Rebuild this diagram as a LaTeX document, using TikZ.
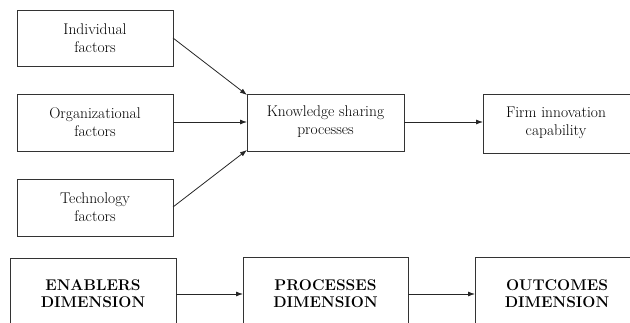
\documentclass[tikz,border=0pt]{standalone}
\usetikzlibrary{arrows.meta}
\begin{document}
\begin{tikzpicture}[x=1pt,y=-1pt,
  box/.style={draw=black!80,line width=0.9pt,fill=white},
  lbl/.style={align=center,font=\fontsize{15.5}{18}\selectfont,text=black},
  blbl/.style={align=center,font=\fontsize{15.5}{17}\selectfont\bfseries,text=black},
  conn/.style={draw=black!85,line width=0.8pt,-{Latex[length=7pt,width=5pt]}}]
\useasboundingbox (0,0) rectangle (630,323);
\begin{scope}
\clip (0,0) rectangle (630,323);
\draw[box] (17,10) rectangle (173,66);
\draw[box] (17,94) rectangle (173,151);
\draw[box] (17,179) rectangle (173,236);
\draw[box] (247,94) rectangle (404,151);
\draw[box] (483,94) rectangle (640,153);
\draw[box] (10,258) rectangle (176,340);
\draw[box] (243,257) rectangle (408,340);
\draw[box] (475,257) rectangle (640,340);
\end{scope}
\node[lbl] (ind) at (95,38) {Individual\\factors};
\node[lbl] (org) at (95,122) {Organizational\\factors};
\node[lbl] (tech) at (95,207) {Technology\\factors};
\node[lbl] (ks) at (325.5,122) {Knowledge sharing\\processes};
\node[lbl] (firm) at (556,123) {Firm innovation\\capability};
\node[blbl] (en) at (93,294) {ENABLERS\\DIMENSION};
\node[blbl] (pr) at (325.5,294) {PROCESSES\\DIMENSION};
\node[blbl] (out) at (557,294) {OUTCOMES\\DIMENSION};
\coordinate (indE) at (173,38);
\coordinate (orgE) at (173,122);
\coordinate (techE) at (173,207);
\coordinate (ksTL) at (247,95);
\coordinate (ksW) at (247,122);
\coordinate (ksBL) at (247,150);
\coordinate (ksE) at (404,122);
\coordinate (firmW) at (483,122);
\coordinate (enE) at (176,294);
\coordinate (prW) at (243,294);
\coordinate (prE) at (408,294);
\coordinate (outW) at (475,294);
\draw[conn] (indE) -- (ksTL);
\draw[conn] (orgE) -- (ksW);
\draw[conn] (techE) -- (ksBL);
\draw[conn] (ksE) -- (firmW);
\draw[conn] (enE) -- (prW);
\draw[conn] (prE) -- (outW);
\end{tikzpicture}
\end{document}
